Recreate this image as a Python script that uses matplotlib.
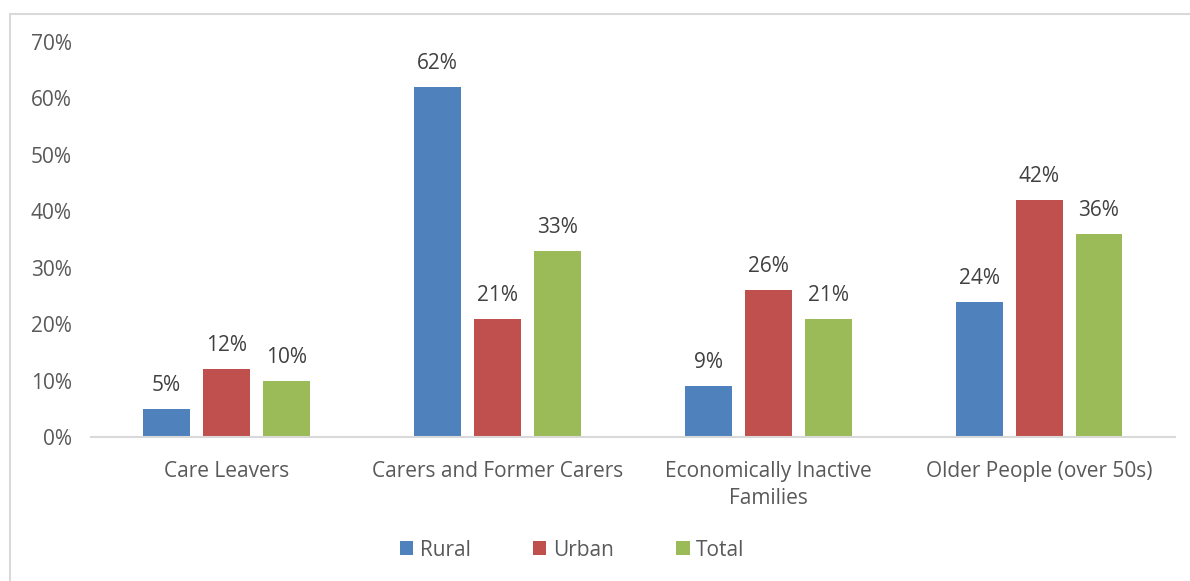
import matplotlib
matplotlib.use("Agg")
import matplotlib.pyplot as plt
import numpy as np
from matplotlib.patches import Rectangle

categories = ["Care Leavers", "Carers and Former Carers",
              "Economically Inactive\nFamilies", "Older People (over 50s)"]
series = ["Rural", "Urban", "Total"]
rural = [5, 62, 9, 24]
urban = [12, 21, 26, 42]
total = [10, 33, 21, 36]
colors = ["#4f81bd", "#c0504d", "#9bbb59"]

TXT = "#595959"
plt.rcParams["font.family"] = ["Open Sans", "DejaVu Sans"]

fig = plt.figure(figsize=(11.9, 5.81), dpi=100)
ax = fig.add_axes([0.0765, 0.2478, 0.9105, 0.68])

# chart frame, cut off at the right and bottom edges
fig.patches.append(Rectangle((10 / 1190, -0.05), 1.2, 1 - 14 / 581 + 0.05,
                             transform=fig.transFigure, fill=False,
                             edgecolor="#d9d9d9", lw=1.5))

x = np.arange(len(categories))
step, width = 0.221, 0.173
for i, (name, vals) in enumerate(zip(series, [rural, urban, total])):
    pos = x + (i - 1) * step
    ax.bar(pos, vals, width, color=colors[i], label=name)
    for px, v in zip(pos, vals):
        ax.text(px, v + 2.3, f"{v}%", ha="center", va="bottom",
                fontsize=15, color="#404040")

ax.set_xlim(-0.5, len(categories) - 0.5)
ax.set_ylim(0, 70)
ax.set_yticks(range(0, 71, 10))
ax.set_yticklabels([f"{t}%" for t in range(0, 71, 10)])
ax.set_xticks(x)
ax.set_xticklabels(categories, linespacing=1.4)
ax.tick_params(axis="y", length=0, pad=14, labelsize=15, labelcolor=TXT)
ax.tick_params(axis="x", length=0, pad=17, labelsize=15, labelcolor=TXT)
for s in ["top", "right", "left"]:
    ax.spines[s].set_visible(False)
ax.spines["bottom"].set_color("#d9d9d9")
ax.spines["bottom"].set_linewidth(1.5)

leg = fig.legend(loc="center", bbox_to_anchor=(0.4807, 1 - 550 / 581), ncol=3,
                 frameon=False, fontsize=15, handlelength=0.65, handleheight=0.65,
                 handletextpad=0.3, columnspacing=3.0)
for t in leg.get_texts():
    t.set_color(TXT)

fig.savefig("out.png", dpi=100)
